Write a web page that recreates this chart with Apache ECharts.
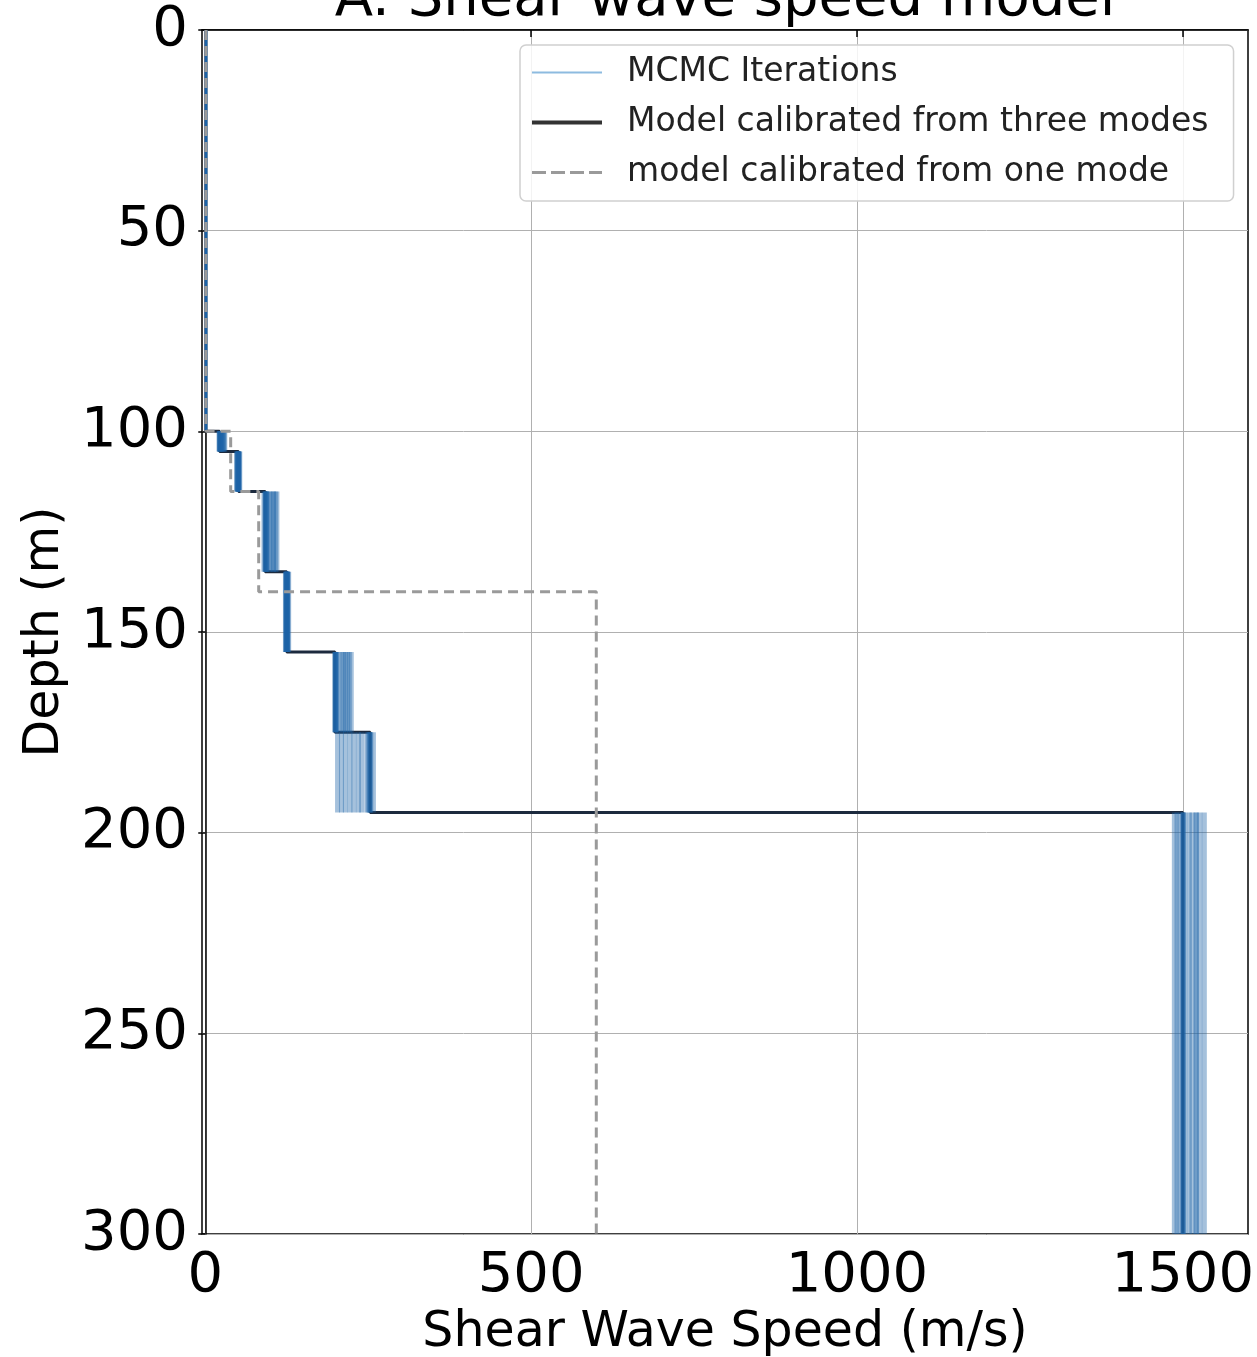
<!DOCTYPE html>
<html>
<head>
<meta charset="utf-8">
<script src="https://cdn.jsdelivr.net/npm/echarts@6/dist/echarts.min.js"></script>
<style>html,body{margin:0;padding:0;background:#fff}#c{width:1257px;height:1357px}</style>
</head>
<body>
<div id="c"></div>
<script>
// Layer boundaries (m)
const depths = [0, 100, 105, 115, 135, 155, 175, 195, 300];
const depthsOne = [0, 100, 115, 140, 300];
// Shear wave speed per layer (m/s)
const modelThree = [1, 22, 51, 92, 125, 199, 253, 1500];
const modelOne = [1, 39, 82, 600];
const mcmc1 = [1, 22, 51, 92, 125, 199, 253, 1500];
const mcmc2 = [2, 28, 49, 110, 127, 224, 203, 1533];
const mcmc3 = [1, 25, 52, 100, 124, 210, 215, 1487];
const mcmc4 = [0.5, 30, 48, 95, 126, 205, 240, 1520];
const mcmc5 = [1.5, 21, 53, 105, 123, 218, 228, 1510];
const mcmc6 = [1, 24, 50, 90, 125, 200, 258, 1495];
const mcmc7 = [2, 27, 51, 98, 128, 212, 235, 1526];
const mcmc8 = [1, 23, 50, 93, 124, 202, 248, 1503];
const mcmc9 = [1, 22, 51, 93, 125, 199, 252, 1500];
const mcmc10 = [1, 23, 51, 92, 125, 200, 250, 1501];
const mcmc11 = [1, 22, 50, 94, 126, 201, 254, 1521];
const mcmc12 = [1, 26, 52, 104, 126, 215, 222, 1514];
const mcmc13 = [1, 29, 49, 108, 124, 221, 209, 1491];
const mcmcRuns = [mcmc1, mcmc2, mcmc3, mcmc4, mcmc5, mcmc6, mcmc7, mcmc8, mcmc9, mcmc10, mcmc11, mcmc12, mcmc13];
const xTicks = [0, 500, 1000, 1500];
const yTicks = [0, 50, 100, 150, 200, 250, 300];

function profile(v, d) {
  const pts = [];
  for (let i = 0; i < v.length; i++) {
    pts.push([v[i], d[i]]);
    pts.push([v[i], d[i + 1]]);
  }
  return pts;
}

const FONT = 'DejaVu Sans';
const series = [];
series.push({
  name: 'Model calibrated from three modes', type: 'line', data: profile(modelThree, depths), symbol: 'none',
  lineStyle: { color: '#1c2a3e', width: 3 }, z: 2
});
mcmcRuns.forEach(r => {
  r.forEach((v, i) => {
    series.push({
      name: 'MCMC Iterations', type: 'line', data: [[v, depths[i]], [v, depths[i + 1]]], symbol: 'none',
      lineStyle: { color: '#1f63a8', width: i === 0 ? 2 : 5, opacity: 0.4 }, z: 3, silent: true
    });
  });
});
series.push({
  name: 'model calibrated from one mode', type: 'line', data: profile(modelOne, depthsOne), symbol: 'none',
  lineStyle: { color: '#9a9a9a', width: 3, type: [10, 6] }, z: 4
});

const chart = echarts.init(document.getElementById('c'), null, { renderer: 'canvas' });
chart.setOption({
  animation: false,
  backgroundColor: '#fff',
  textStyle: { fontFamily: FONT },
  grid: { left: 202, right: 9, top: 30, bottom: 123, show: true, borderColor: '#000', borderWidth: 1.5, containLabel: false, outerBoundsMode: 'none' },
  graphic: [{
    type: 'text', x: 725, y: 0,
    style: { text: 'A. Shear wave speed model', font: '56px "DejaVu Sans"', fill: '#000', textAlign: 'center', textVerticalAlign: 'middle' }
  }],
  legend: {
    left: 520, top: 45, orient: 'vertical',
    padding: [11, 25, 12, 12],
    itemWidth: 70, itemHeight: 20, itemGap: 17,
    backgroundColor: 'rgba(255,255,255,0.85)',
    borderColor: '#d0d0d0', borderWidth: 1.5, borderRadius: 6,
    textStyle: { fontFamily: FONT, fontSize: 33, color: '#222', padding: [0, 0, 0, 20] },
    data: [
      { name: 'MCMC Iterations', icon: 'path://M0,0 L70,0 L70,2 L0,2 Z', itemStyle: { color: '#8dbbe0' } },
      { name: 'Model calibrated from three modes', icon: 'path://M0,0 L70,0 L70,4 L0,4 Z', itemStyle: { color: '#333' } },
      { name: 'model calibrated from one mode', icon: 'path://M0,0 L14,0 L14,3 L0,3 Z M19,0 L33,0 L33,3 L19,3 Z M38,0 L52,0 L52,3 L38,3 Z M57,0 L70,0 L70,3 L57,3 Z', itemStyle: { color: '#9a9a9a' } }
    ]
  },
  xAxis: {
    type: 'value', min: -5, max: 1600,
    name: 'Shear Wave Speed (m/s)', nameLocation: 'middle', nameGap: 74,
    nameTextStyle: { fontFamily: FONT, fontSize: 49, color: '#000' },
    axisLine: { show: true, lineStyle: { color: '#000', width: 1.5 } },
    axisTick: { show: true, length: 7, lineStyle: { color: '#000', width: 1.5 }, customValues: xTicks },
    axisLabel: { fontFamily: FONT, fontSize: 56, color: '#000', margin: 14, customValues: xTicks, formatter: v => String(v) },
    splitLine: { show: true, lineStyle: { color: '#b0b0b0', width: 1 } }
  },
  yAxis: {
    type: 'value', min: 0, max: 300, interval: 50, inverse: true,
    name: 'Depth (m)', nameLocation: 'middle', nameGap: 132, nameRotate: 90,
    nameTextStyle: { fontFamily: FONT, fontSize: 49, color: '#000' },
    axisLine: { show: true, lineStyle: { color: '#000', width: 1.5 } },
    axisTick: { show: true, length: 7, lineStyle: { color: '#000', width: 1.5 } },
    axisLabel: { fontFamily: FONT, fontSize: 56, color: '#000', margin: 14, formatter: v => yTicks.includes(v) ? String(v) : '' },
    splitLine: { show: true, lineStyle: { color: '#b0b0b0', width: 1 } }
  },
  series: series
});
</script>
</body>
</html>
